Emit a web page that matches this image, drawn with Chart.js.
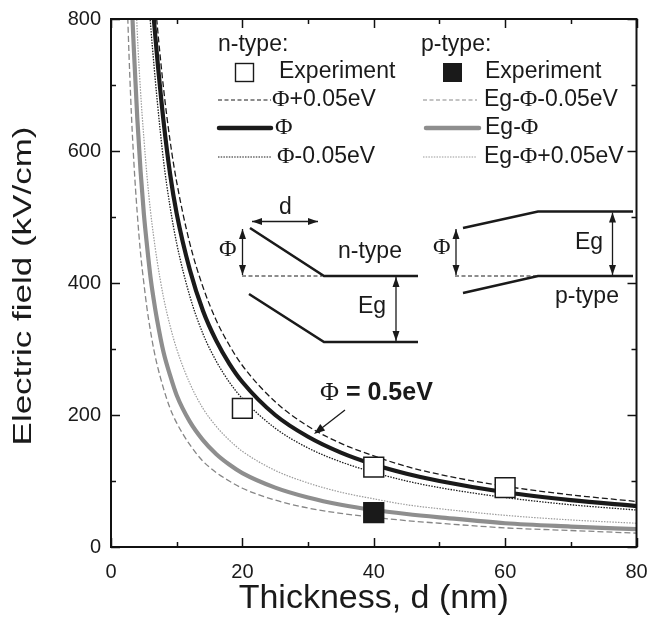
<!DOCTYPE html>
<html><head><meta charset="utf-8">
<script src="https://cdn.jsdelivr.net/npm/chart.js@4"></script>
<style>html,body{margin:0;padding:0;background:#fff}#wrap{width:652px;height:622px}</style>
</head><body><div id="wrap"><canvas id="c" width="652" height="622"></canvas></div>
<script>
// ---- data ----
const thicknessN = [4, 4.5, 5, 5.5, 6, 6.5, 7, 8, 9, 10, 12, 14, 16, 18, 20, 25, 30, 35, 40, 45, 50, 60, 70, 80];
const phiField      = [1300, 1160, 1050, 950, 870, 802, 745, 645, 565, 505, 420, 358, 313, 278, 250, 200, 167, 143, 125, 111, 100, 83, 71, 62];
const phiPlusField  = [1400, 1240, 1110, 1010, 925, 855, 795, 695, 615, 553, 460, 394, 344, 306, 275, 220, 183, 157, 138, 122, 110, 92, 79, 69];
const phiMinusField = [1180, 1050, 950, 870, 795, 735, 680, 585, 515, 460, 380, 323, 282, 250, 225, 180, 150, 129, 113, 100, 90, 75, 64, 56];

const thicknessP = [2, 2.5, 3, 3.5, 4, 4.5, 5, 5.5, 6, 6.5, 7, 8, 9, 10, 12, 14, 16, 18, 20, 25, 30, 35, 40, 45, 50, 60, 70, 80];
const egPhiField      = [1300, 1050, 870, 750, 650, 570, 505, 455, 410, 375, 345, 295, 260, 230, 190, 162, 141, 125, 112, 90, 75, 64, 56, 50, 45, 36, 31, 27];
const egPhiMinusField = [1020, 820, 680, 580, 505, 445, 400, 360, 328, 300, 277, 240, 210, 188, 155, 130, 113, 100, 89, 71, 59, 51, 45, 40, 36, 29, 25, 21];
const egPhiPlusField  = [1550, 1250, 1030, 910, 780, 690, 620, 560, 510, 470, 435, 378, 335, 300, 248, 210, 183, 162, 145, 116, 97, 83, 73, 64, 58, 48, 41, 36];

const nExpThickness = [20, 40, 60];
const nExpField = [210, 121, 90];
const pExpThickness = [40];
const pExpField = [52];

const xTickValues = [0, 20, 40, 60, 80];
const yTickValues = [0, 200, 400, 600, 800];
const xMinorStep = 10;
const yMinorStep = 100;
const xTitle = 'Thickness, d (nm)';
const yTitle = 'Electric field (kV/cm)';

// ---- helpers ----
const SANS = '"Liberation Sans", Arial, Helvetica, sans-serif';
const SERIF = '"Liberation Serif", "Times New Roman", serif';
const pts = (xs, ys) => xs.map((x, i) => ({x, y: ys[i]}));

function curve(label, xs, ys, color, width, dash) {
  return {label, data: pts(xs, ys), showLine: true, borderColor: color, borderWidth: width,
    borderDash: dash, pointRadius: 0, cubicInterpolationMode: 'monotone', clip: 0, fill: false};
}

function mixedText(ctx, str, x, y, size, bold) {
  let cx = x;
  for (const part of str.split(/(Φ)/)) {
    if (!part) continue;
    ctx.font = part === 'Φ' ? `${size + 1}px ${SERIF}` : `${bold ? 'bold ' : ''}${size}px ${SANS}`;
    ctx.fillText(part, cx, y);
    cx += ctx.measureText(part).width;
  }
}
function seg(ctx, x1, y1, x2, y2) { ctx.beginPath(); ctx.moveTo(x1, y1); ctx.lineTo(x2, y2); ctx.stroke(); }
function head(ctx, x1, y1, x2, y2, len, hw) {
  const a = Math.atan2(y2 - y1, x2 - x1);
  ctx.beginPath();
  ctx.moveTo(x2, y2);
  ctx.lineTo(x2 - len * Math.cos(a) + hw * Math.sin(a), y2 - len * Math.sin(a) - hw * Math.cos(a));
  ctx.lineTo(x2 - len * Math.cos(a) - hw * Math.sin(a), y2 - len * Math.sin(a) + hw * Math.cos(a));
  ctx.closePath(); ctx.fill();
}
function dblArrow(ctx, x1, y1, x2, y2) {
  ctx.lineWidth = 1.3;
  seg(ctx, x1, y1, x2, y2);
  head(ctx, x2, y2, x1, y1, 10, 3.5);
  head(ctx, x1, y1, x2, y2, 10, 3.5);
}

const framePlugin = {
  id: 'frame',
  afterDatasetsDraw(chart) {
    const {ctx, chartArea: a, scales: {x, y}} = chart;
    ctx.save();
    ctx.strokeStyle = '#111';
    ctx.lineWidth = 1.5;
    for (let v = x.min; v <= x.max; v += xMinorStep) {
      const p = Math.round(x.getPixelForValue(v)) + 0.5;
      const L = xTickValues.includes(v) ? 9 : 5;
      seg(ctx, p, a.bottom, p, a.bottom - L);
      seg(ctx, p, a.top, p, a.top + L);
    }
    for (let v = y.min; v <= y.max; v += yMinorStep) {
      const p = Math.round(y.getPixelForValue(v)) + 0.5;
      const L = yTickValues.includes(v) ? 9 : 5;
      seg(ctx, a.left, p, a.left + L, p);
      seg(ctx, a.right, p, a.right - L, p);
    }
    ctx.lineWidth = 2;
    ctx.strokeRect(a.left, a.top, a.right - a.left, a.bottom - a.top);
    ctx.restore();
  },
  afterDraw(chart) {
    const ctx = chart.ctx;
    const a = chart.chartArea;
    ctx.save();
    ctx.fillStyle = '#1a1a1a';
    ctx.strokeStyle = '#1a1a1a';
    // ---- y axis title (wide lettering, stretched along the text) ----
    ctx.save();
    ctx.translate(31, (a.top + a.bottom) / 2 + 3);
    ctx.rotate(-Math.PI / 2);
    ctx.scale(1.4, 1);
    ctx.font = `25px ${SANS}`;
    ctx.textAlign = 'center';
    ctx.textBaseline = 'alphabetic';
    ctx.fillText(yTitle, 0, 0);
    ctx.restore();

    ctx.textBaseline = 'middle';
    ctx.textAlign = 'left';
    const fs = 23;
    // ---- legend: n-type ----
    mixedText(ctx, 'n-type:', 218, 45, fs);
    ctx.lineWidth = 1.4; ctx.fillStyle = '#fff';
    ctx.fillRect(235.5, 63.5, 18, 18); ctx.strokeRect(235.5, 63.5, 18, 18);
    ctx.fillStyle = '#1a1a1a';
    mixedText(ctx, 'Experiment', 279, 72, fs);
    ctx.lineWidth = 1.2; ctx.setLineDash([4, 2.5]); seg(ctx, 218, 100, 271, 100);
    ctx.setLineDash([]);
    mixedText(ctx, 'Φ+0.05eV', 272, 100, fs);
    ctx.lineWidth = 4.5; ctx.lineCap = 'round'; seg(ctx, 219, 128, 271, 128); ctx.lineCap = 'butt';
    mixedText(ctx, 'Φ', 275, 128, fs);
    ctx.lineWidth = 1.2; ctx.setLineDash([1.5, 1.2]); seg(ctx, 218, 157, 271, 157);
    ctx.setLineDash([]);
    mixedText(ctx, 'Φ-0.05eV', 277, 157, fs);
    // ---- legend: p-type ----
    mixedText(ctx, 'p-type:', 421, 45, fs);
    ctx.fillRect(443, 63, 19, 19);
    mixedText(ctx, 'Experiment', 485, 72, fs);
    ctx.strokeStyle = '#888'; ctx.lineWidth = 1.2; ctx.setLineDash([4, 2.5]); seg(ctx, 423, 100, 477, 100);
    ctx.setLineDash([]);
    mixedText(ctx, 'Eg-Φ-0.05eV', 484, 100, fs);
    ctx.strokeStyle = '#8e8e8e'; ctx.lineWidth = 4.5; ctx.lineCap = 'round'; seg(ctx, 426, 128, 479, 128); ctx.lineCap = 'butt';
    mixedText(ctx, 'Eg-Φ', 485, 128, fs);
    ctx.strokeStyle = '#9a9a9a'; ctx.lineWidth = 1.2; ctx.setLineDash([1.5, 1.2]); seg(ctx, 423, 157, 477, 157);
    ctx.setLineDash([]);
    mixedText(ctx, 'Eg-Φ+0.05eV', 484, 157, fs);

    // ---- inset n-type band diagram ----
    ctx.strokeStyle = '#1a1a1a'; ctx.fillStyle = '#1a1a1a';
    ctx.lineWidth = 2.6; ctx.lineJoin = 'miter';
    ctx.beginPath(); ctx.moveTo(250, 228); ctx.lineTo(324, 276); ctx.lineTo(418, 276); ctx.stroke();
    ctx.beginPath(); ctx.moveTo(249, 294); ctx.lineTo(324, 342); ctx.lineTo(418, 342); ctx.stroke();
    ctx.lineWidth = 1; ctx.setLineDash([4, 2.5]); seg(ctx, 242, 276, 322, 276); ctx.setLineDash([]);
    dblArrow(ctx, 242.5, 229, 242.5, 275);
    dblArrow(ctx, 252, 221.5, 318, 221.5);
    dblArrow(ctx, 396, 277, 396, 341);
    mixedText(ctx, 'd', 279, 208, fs);
    mixedText(ctx, 'Φ', 219, 250, fs);
    mixedText(ctx, 'n-type', 338, 252, fs);
    mixedText(ctx, 'Eg', 358, 307, fs);

    // ---- inset p-type band diagram ----
    ctx.lineWidth = 2.6;
    ctx.beginPath(); ctx.moveTo(463, 228); ctx.lineTo(538, 211.5); ctx.lineTo(633, 211.5); ctx.stroke();
    ctx.beginPath(); ctx.moveTo(463, 293); ctx.lineTo(538, 276); ctx.lineTo(633, 276); ctx.stroke();
    ctx.lineWidth = 1; ctx.setLineDash([4, 2.5]); seg(ctx, 455, 276, 536, 276); ctx.setLineDash([]);
    dblArrow(ctx, 456, 229, 456, 275);
    dblArrow(ctx, 612.5, 212.5, 612.5, 275);
    mixedText(ctx, 'Φ', 433, 248, fs);
    mixedText(ctx, 'Eg', 575, 243, fs);
    mixedText(ctx, 'p-type', 555, 297, fs);

    // ---- annotation ----
    mixedText(ctx, 'Φ = 0.5eV', 320, 393, 25, true);
    ctx.lineWidth = 1.3;
    seg(ctx, 345, 410, 318, 431);
    head(ctx, 345, 410, 314, 434, 11, 4);
    ctx.restore();
  }
};

const chart = new Chart(document.getElementById('c'), {
  type: 'scatter',
  data: {
    datasets: [
      {label: 'n-type Experiment', data: pts(nExpThickness, nExpField), pointStyle: 'rect', pointRadius: 14,
        backgroundColor: '#ffffff', borderColor: '#1a1a1a', borderWidth: 1.5, order: 0},
      {label: 'p-type Experiment', data: pts(pExpThickness, pExpField), pointStyle: 'rect', pointRadius: 14,
        backgroundColor: '#1a1a1a', borderColor: '#1a1a1a', borderWidth: 1.5, order: 1},
      Object.assign(curve('Φ+0.05eV', thicknessN, phiPlusField, '#1a1a1a', 1.3, [6, 3]), {order: 2}),
      Object.assign(curve('Φ', thicknessN, phiField, '#1a1a1a', 4.2, []), {order: 3}),
      Object.assign(curve('Φ-0.05eV', thicknessN, phiMinusField, '#1a1a1a', 1.3, [1.5, 1.3]), {order: 4}),
      Object.assign(curve('Eg-Φ-0.05eV', thicknessP, egPhiMinusField, '#868686', 1.3, [6, 3]), {order: 5}),
      Object.assign(curve('Eg-Φ', thicknessP, egPhiField, '#8e8e8e', 4.2, []), {order: 6}),
      Object.assign(curve('Eg-Φ+0.05eV', thicknessP, egPhiPlusField, '#9c9c9c', 1.2, [1.5, 1.3]), {order: 7})
    ]
  },
  options: {
    responsive: false, animation: false, devicePixelRatio: 1,
    layout: {padding: {top: 19, right: 10, left: 0, bottom: 0}},
    plugins: {legend: {display: false}, tooltip: {enabled: false}},
    scales: {
      x: {
        type: 'linear', min: 0, max: 80,
        afterBuildTicks: s => { s.ticks = xTickValues.map(v => ({value: v})); },
        afterFit: s => { s.height = 75; s.paddingLeft = 0; s.paddingRight = 0; },
        grid: {display: false, drawTicks: false}, border: {display: false},
        ticks: {font: {size: 20, family: SANS}, color: '#1a1a1a', padding: 13, maxRotation: 0},
        title: {display: true, text: xTitle, color: '#1a1a1a',
          font: {size: 34, family: SANS}, padding: {top: 0, bottom: 3}}
      },
      y: {
        type: 'linear', min: 0, max: 800,
        afterBuildTicks: s => { s.ticks = yTickValues.map(v => ({value: v})); },
        afterFit: s => { s.width = 111; s.paddingTop = 0; s.paddingBottom = 0; },
        grid: {display: false, drawTicks: false}, border: {display: false},
        ticks: {font: {size: 20, family: SANS}, color: '#1a1a1a', padding: 10},
        title: {display: false, text: yTitle}
      }
    }
  },
  plugins: [framePlugin]
});

// calibrate the plot frame to the reference position (left 111, right 642, top 19, bottom 547)
(function calibrate() {
  const pad = chart.options.layout.padding;
  for (let i = 0; i < 4; i++) {
    const ca = chart.chartArea;
    const dr = ca.right - 642, dt = 19 - ca.top, db = ca.bottom - 547;
    if (Math.abs(dr) < 0.5 && Math.abs(dt) < 0.5 && Math.abs(db) < 0.5) break;
    pad.right += dr; pad.top += dt; pad.bottom += db;
    chart.update();
  }
})();
</script></body></html>
